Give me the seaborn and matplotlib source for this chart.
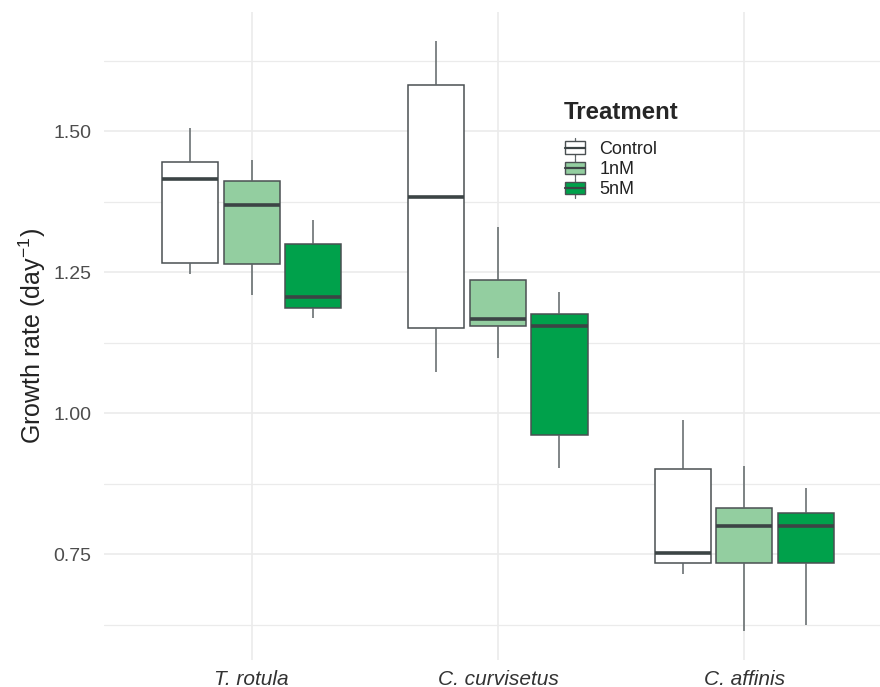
import numpy as np
import pandas as pd
import matplotlib
matplotlib.use("Agg")
import matplotlib.pyplot as plt
import seaborn as sns
from matplotlib.patches import Patch, Rectangle
from matplotlib.lines import Line2D
from matplotlib.legend_handler import HandlerBase
from matplotlib.ticker import MultipleLocator

# Species on the x axis and treatment levels
species = ["T. rotula", "C. curvisetus", "C. affinis"]
treatments = ["Control", "1nM", "5nM"]

# Five-number summaries (lower whisker, Q1, median, Q3, upper whisker) per species
t_rotula_control = [1.248, 1.266, 1.416, 1.446, 1.505]
t_rotula_1nm = [1.210, 1.264, 1.369, 1.412, 1.449]
t_rotula_5nm = [1.170, 1.187, 1.207, 1.301, 1.343]

c_curvisetus_control = [1.074, 1.151, 1.384, 1.582, 1.660]
c_curvisetus_1nm = [1.099, 1.155, 1.168, 1.236, 1.330]
c_curvisetus_5nm = [0.904, 0.962, 1.155, 1.176, 1.216]

c_affinis_control = [0.716, 0.735, 0.752, 0.901, 0.988]
c_affinis_1nm = [0.615, 0.735, 0.801, 0.833, 0.907]
c_affinis_5nm = [0.625, 0.735, 0.801, 0.824, 0.867]

y_ticks = [0.75, 1.00, 1.25, 1.50]
y_tick_labels = ["0.75", "1.00", "1.25", "1.50"]

groups = {
    ("T. rotula", "Control"): t_rotula_control,
    ("T. rotula", "1nM"): t_rotula_1nm,
    ("T. rotula", "5nM"): t_rotula_5nm,
    ("C. curvisetus", "Control"): c_curvisetus_control,
    ("C. curvisetus", "1nM"): c_curvisetus_1nm,
    ("C. curvisetus", "5nM"): c_curvisetus_5nm,
    ("C. affinis", "Control"): c_affinis_control,
    ("C. affinis", "1nM"): c_affinis_1nm,
    ("C. affinis", "5nM"): c_affinis_5nm,
}
rows = [
    {"Species": sp, "Treatment": tr, "Growth": v}
    for (sp, tr), vals in groups.items()
    for v in vals
]
df = pd.DataFrame(rows)

palette = {"Control": "#FFFFFF", "1nM": "#93CEA0", "5nM": "#00A14B"}
edge = "#4A5052"

sns.set_theme(style="white")
plt.rcParams["font.family"] = ["Liberation Sans", "DejaVu Sans"]
plt.rcParams["mathtext.fontset"] = "custom"
plt.rcParams["mathtext.rm"] = "Liberation Sans"
plt.rcParams["mathtext.it"] = "Liberation Sans:italic"

fig = plt.figure(figsize=(8.8, 6.87), dpi=100)
W, H = 880, 687
left_px, right_px, top_px, bottom_px = 104, 880, 11.7, 660
ax = fig.add_axes([left_px / W, 1 - bottom_px / H,
                   (right_px - left_px) / W, (bottom_px - top_px) / H])

sns.boxplot(
    data=df, x="Species", y="Growth", hue="Treatment",
    order=species, hue_order=treatments, palette=palette, saturation=1,
    width=0.75, gap=0.09, whis=1.5, linecolor=edge, linewidth=1.1,
    medianprops={"color": "#3C4445", "linewidth": 2.6},
    whiskerprops={"color": "#5E6567", "linewidth": 1.1},
    capprops={"visible": False}, showfliers=False,
    legend=False, ax=ax, zorder=3,
)

ax.set_xlim(-0.6, (880 - 251) / 246.5)
ax.set_ylim(0.563, 1.712)
ax.set_yticks(y_ticks)
ax.set_yticklabels(y_tick_labels)
ax.yaxis.set_minor_locator(MultipleLocator(0.125))

ax.grid(True, which="major", color="#EBEBEB", linewidth=1.2, zorder=0)
ax.grid(True, which="minor", axis="y", color="#EBEBEB", linewidth=0.9, zorder=0)
ax.set_axisbelow(True)
for s in ax.spines.values():
    s.set_visible(False)

ax.tick_params(axis="both", which="both", length=0)
ax.tick_params(axis="y", labelsize=14, pad=9, labelcolor="#4D4D4D")
ax.tick_params(axis="x", labelsize=15, pad=7, labelcolor="#333333")
for lab in ax.get_xticklabels():
    lab.set_fontstyle("italic")

ax.set_xlabel("")
ax.set_ylabel("Growth rate (day$^{-1}$)", fontsize=18, color="#222222", labelpad=4)


class BoxKey(HandlerBase):
    """Legend key shaped like a small box-and-whisker glyph."""

    def create_artists(self, legend, orig_handle, xdescent, ydescent,
                       width, height, fontsize, trans):
        x0, y0 = -xdescent, -ydescent
        cx = x0 + width / 2
        whisk = Line2D([cx, cx], [y0 - 0.2 * height, y0 + 1.2 * height],
                       color="#5E6567", linewidth=0.9, transform=trans)
        box = Rectangle((x0 + 0.05 * width, y0 + 0.05 * height),
                        0.9 * width, 0.9 * height,
                        facecolor=orig_handle.get_facecolor(),
                        edgecolor=edge, linewidth=1.0, transform=trans)
        med = Line2D([x0 + 0.05 * width, x0 + 0.95 * width],
                     [y0 + 0.5 * height, y0 + 0.5 * height],
                     color="#3C4445", linewidth=1.6, transform=trans)
        return [whisk, box, med]


handles = [Patch(facecolor=palette[t], edgecolor=edge) for t in treatments]
leg = fig.legend(
    handles, treatments, handler_map={Patch: BoxKey()},
    loc="upper left", bbox_to_anchor=(564 / W, 1 - 101 / H),
    frameon=False, fontsize=13, title="Treatment",
    title_fontproperties={"weight": "bold", "size": 17.3},
    handlelength=1.25, handleheight=0.8, handletextpad=0.7,
    labelspacing=0.17, borderpad=0, borderaxespad=0,
)
leg._legend_box.align = "left"
leg._legend_box.sep = 12
for t in leg.get_texts():
    t.set_color("#222222")

fig.savefig("out.png", dpi=100)
